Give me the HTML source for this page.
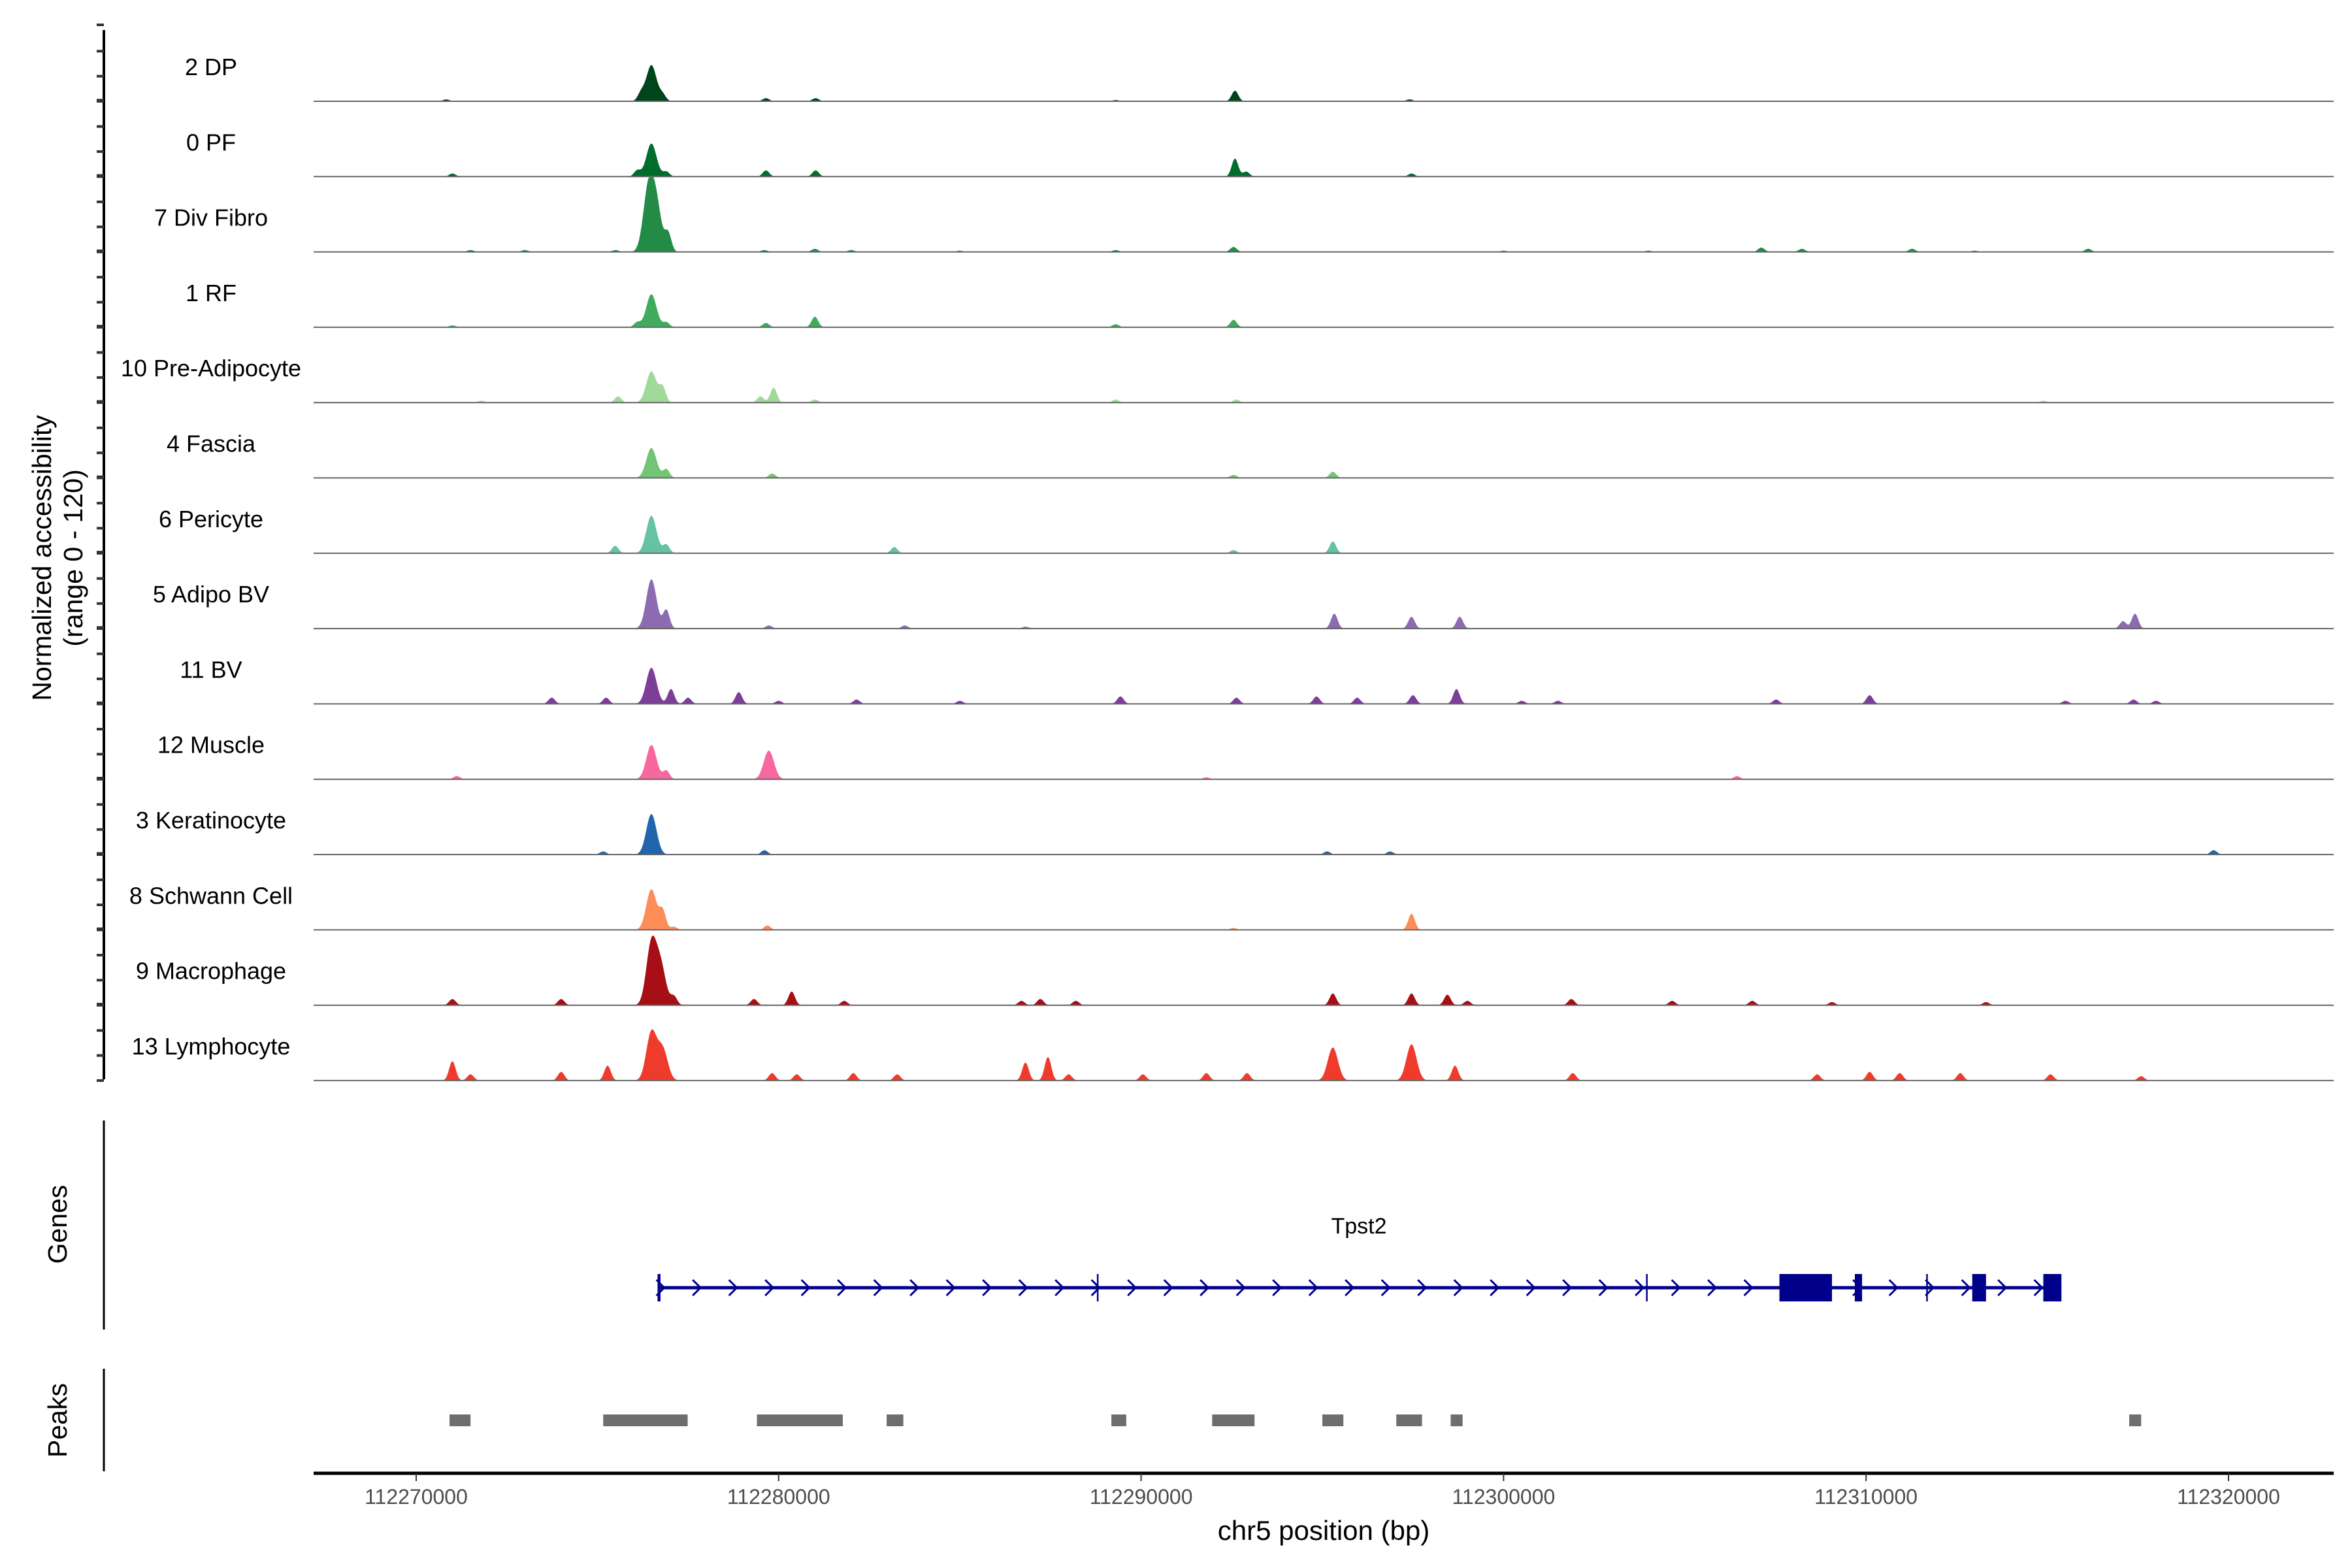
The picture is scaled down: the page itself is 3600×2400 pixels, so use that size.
<!DOCTYPE html>
<html><head><meta charset="utf-8">
<style>
body{margin:0;background:#fff}
svg{display:block;font-family:"Liberation Sans",sans-serif}
</style></head>
<body>
<svg id="chart" width="3600" height="2400" viewBox="0 0 3600 2400">
<g id="tracks"></g>
<line x1="159" y1="46" x2="159" y2="1652" stroke="#000" stroke-width="4"/>
<g id="yticks"></g>
<text transform="translate(78,854) rotate(-90)" text-anchor="middle" font-size="41">Normalized accessibility</text>
<text transform="translate(126,854) rotate(-90)" text-anchor="middle" font-size="41">(range 0 - 120)</text>
<line x1="159" y1="1715" x2="159" y2="2035" stroke="#000" stroke-width="3"/>
<text transform="translate(102,1874) rotate(-90)" text-anchor="middle" font-size="41">Genes</text>
<g id="gene"></g>
<text x="2080" y="1888" text-anchor="middle" font-size="34">Tpst2</text>
<line x1="159" y1="2095" x2="159" y2="2252" stroke="#000" stroke-width="3"/>
<text transform="translate(102,2174) rotate(-90)" text-anchor="middle" font-size="41">Peaks</text>
<g id="peaks"></g>
<line x1="480" y1="2255" x2="3572" y2="2255" stroke="#000" stroke-width="5"/>
<g id="xticks"></g>
<text x="2026" y="2357" text-anchor="middle" font-size="42">chr5 position (bp)</text>
</svg>
<script>
const NS="http://www.w3.org/2000/svg";
const trackNames=["2 DP","0 PF","7 Div Fibro","1 RF","10 Pre-Adipocyte","4 Fascia","6 Pericyte","5 Adipo BV","11 BV","12 Muscle","3 Keratinocyte","8 Schwann Cell","9 Macrophage","13 Lymphocyte"];
const trackColors=["#00441b","#006d2c","#238b45","#41ab5d","#a1d99b","#74c476","#66c2a4","#8c6bb1","#7b3f98","#f768a1","#2166ac","#fc8d59","#a50f15","#ef3b2c"];
// peak centers (kb) and heights (normalized accessibility, 0-120)
const peakPos=[
[276.49,292.59,270.83,279.65,281.02,297.41,289.30,276.2,276.8],
[276.49,292.59,279.65,281.02,271.0,297.46,276.1,276.9,292.9],
[276.40,276.62,292.55,281.0,307.11,311.27,316.13,308.23,276.95,271.5,273.0,275.5,279.6,282.0,285.0,289.3,300.0,304.0,313.0],
[276.49,281.0,279.65,292.55,289.30,271.0,276.1,276.9],
[276.49,279.86,275.57,289.30,292.63,314.89,276.8,279.5,281.0,271.8],
[276.49,295.29,279.82,292.55,276.9],
[276.49,275.49,283.19,295.29,292.55,276.9],
[276.49,295.33,297.46,298.79,317.42,317.09,279.73,283.48,286.81,276.9],
[276.49,277.03,278.90,273.74,275.24,289.43,294.84,297.50,298.70,310.10,292.63,295.96,282.15,307.52,317.38,277.5,280.0,285.0,300.5,301.5,315.5,318.0],
[276.49,279.73,271.12,306.44,291.80,276.9],
[276.49,279.61,319.59,295.13,296.87,275.16],
[276.49,297.46,279.69,277.11,292.55,276.8],
[276.49,277.11,280.36,271.0,274.0,287.22,295.29,297.46,298.45,301.87,304.65,306.86,309.06,313.31,279.32,281.81,276.75,288.2,286.7,299.0],
[276.49,271.0,295.29,297.46,298.66,287.43,286.81,279.82,275.28,274.0,282.06,283.27,290.05,291.80,292.92,301.91,308.65,310.10,310.93,312.60,315.09,317.59,276.8,271.5,280.5,288.0]
];
const peakHeights=[
[58,17,3,5,5,3,2,12,10],
[53,29,10,10,5,5,10,8,8],
[95,75,8,5,7,5,5,5,30,3,3,3,3,3,2,3,2,2,2],
[53,17,7,12,5,3,8,8],
[50,24,10,5,5,3,24,10,5,3],
[48,10,7,5,14],
[60,12,10,19,5,14],
[79,24,19,19,24,12,5,5,3,30],
[58,24,19,10,10,12,12,14,24,14,10,10,7,7,7,10,5,5,5,5,5,5],
[55,46,5,5,3,14],
[65,7,7,5,5,5],
[65,26,7,5,3,30],
[98,14,22,10,10,10,19,19,17,10,7,7,5,5,10,7,60,7,7,7],
[77,31,53,58,24,38,29,12,24,14,12,10,10,12,12,12,10,14,12,12,10,7,50,10,10,10]
];
const tickLabels=["112270000","112280000","112290000","112300000","112310000","112320000"];
const tickKb=[112270,112280,112290,112300,112310,112320];
const peakStart=[270.92,275.16,279.40,282.98,289.18,291.96,295.00,297.04,298.54,317.26];
const peakEnd=[271.50,277.49,281.77,283.44,289.59,293.13,295.58,297.75,298.87,317.59];
const geneStart=276.70, geneEnd=315.39;
const exonStart=[276.66,288.78,303.93,307.61,309.69,311.66,312.93,314.89];
const exonEnd=[276.74,288.82,303.97,309.06,309.89,311.70,313.31,315.39];

const kb0=112000;
const X0=637, PXKB=55.48;
function xs(kb){return X0+(kb+kb0-112270)*PXKB;}
const TOP0=155, TSTEP=115.3, TH=115;
function ys(i,v){return TOP0+i*TSTEP - v/120*TH;}

const tracks=document.getElementById('tracks');
trackNames.forEach((nm,i)=>{
  const base=ys(i,0);
  let d="M480,"+base;
  for(let px=480;px<=3572;px+=2){
    const kb=(px-X0)/PXKB+270;
    let v=0;
    peakPos[i].forEach((c,j)=>{
      const h=peakHeights[i][j];
      const s=h>40?0.14:0.09;
      const dz=(kb-c)/s;
      v+=h*Math.exp(-0.5*dz*dz);
    });
    v=Math.min(v,120);
    d+=" L"+px+","+ys(i,v).toFixed(1);
  }
  d+=" L3572,"+base+" Z";
  const p=document.createElementNS(NS,'path');
  p.setAttribute('d',d);p.setAttribute('fill',trackColors[i]);
  
  
  tracks.appendChild(p);
  const l=document.createElementNS(NS,'line');
  l.setAttribute('x1',480);l.setAttribute('x2',3572);l.setAttribute('y1',base);l.setAttribute('y2',base);
  l.setAttribute('stroke','#666');l.setAttribute('stroke-width','2');
  
  
  tracks.appendChild(l);
  const t=document.createElementNS(NS,'text');
  t.setAttribute('x',323);t.setAttribute('y',base-40);t.setAttribute('text-anchor','middle');t.setAttribute('font-size','36');
  t.textContent=nm;
  
  
  tracks.appendChild(t);
});
const yt=document.getElementById('yticks');
for(let i=0;i<trackNames.length;i++){
  for(let k=0;k<4;k++){
    const y=ys(i,k*40)+ (k==3?-2:0);
    const l=document.createElementNS(NS,'line');
    l.setAttribute('x1',148);l.setAttribute('x2',159);l.setAttribute('y1',y);l.setAttribute('y2',y);
    l.setAttribute('stroke','#333');l.setAttribute('stroke-width','4');
    
    
    yt.appendChild(l);
  }
}
const xt=document.getElementById('xticks');
tickKb.forEach((k,i)=>{
  const x=xs(k-kb0);
  const l=document.createElementNS(NS,'line');
  l.setAttribute('x1',x);l.setAttribute('x2',x);l.setAttribute('y1',2255);l.setAttribute('y2',2267);
  l.setAttribute('stroke','#333');l.setAttribute('stroke-width','2');
  
  
  xt.appendChild(l);
  const t=document.createElementNS(NS,'text');
  t.setAttribute('x',x);t.setAttribute('y',2302);t.setAttribute('text-anchor','middle');
  t.setAttribute('font-size','32');t.setAttribute('fill','#4d4d4d');
  t.textContent=tickLabels[i];
  
  
  xt.appendChild(t);
});
const pk=document.getElementById('peaks');
peakStart.forEach((s,i)=>{
  const r=document.createElementNS(NS,'rect');
  r.setAttribute('x',xs(s));r.setAttribute('width',xs(peakEnd[i])-xs(s));
  r.setAttribute('y',2165);r.setAttribute('height',18);r.setAttribute('fill','#6e6e6e');
  
  
  pk.appendChild(r);
});
const g=document.getElementById('gene');
const gl=document.createElementNS(NS,'line');
gl.setAttribute('x1',xs(geneStart));gl.setAttribute('x2',xs(geneEnd));gl.setAttribute('y1',1971);gl.setAttribute('y2',1971);
gl.setAttribute('stroke','#00008b');gl.setAttribute('stroke-width','5');


g.appendChild(gl);
let arrows="";
for(let x=xs(geneStart)+2;x<xs(geneEnd)-10;x+=55.5){arrows+=`M${x-6},1959 L${x+6},1971 L${x-6},1983 `;}
const ap=document.createElementNS(NS,'path');
ap.setAttribute('d',arrows);ap.setAttribute('fill','none');ap.setAttribute('stroke','#00008b');ap.setAttribute('stroke-width','3');


g.appendChild(ap);
exonStart.forEach((s,i)=>{
  const r=document.createElementNS(NS,'rect');
  const w=Math.max(2.5,xs(exonEnd[i])-xs(s));
  r.setAttribute('x',xs(s));r.setAttribute('width',w);
  r.setAttribute('y',1950);r.setAttribute('height',42);r.setAttribute('fill','#00008b');
  
  
  g.appendChild(r);
});
</script>
</body></html>
